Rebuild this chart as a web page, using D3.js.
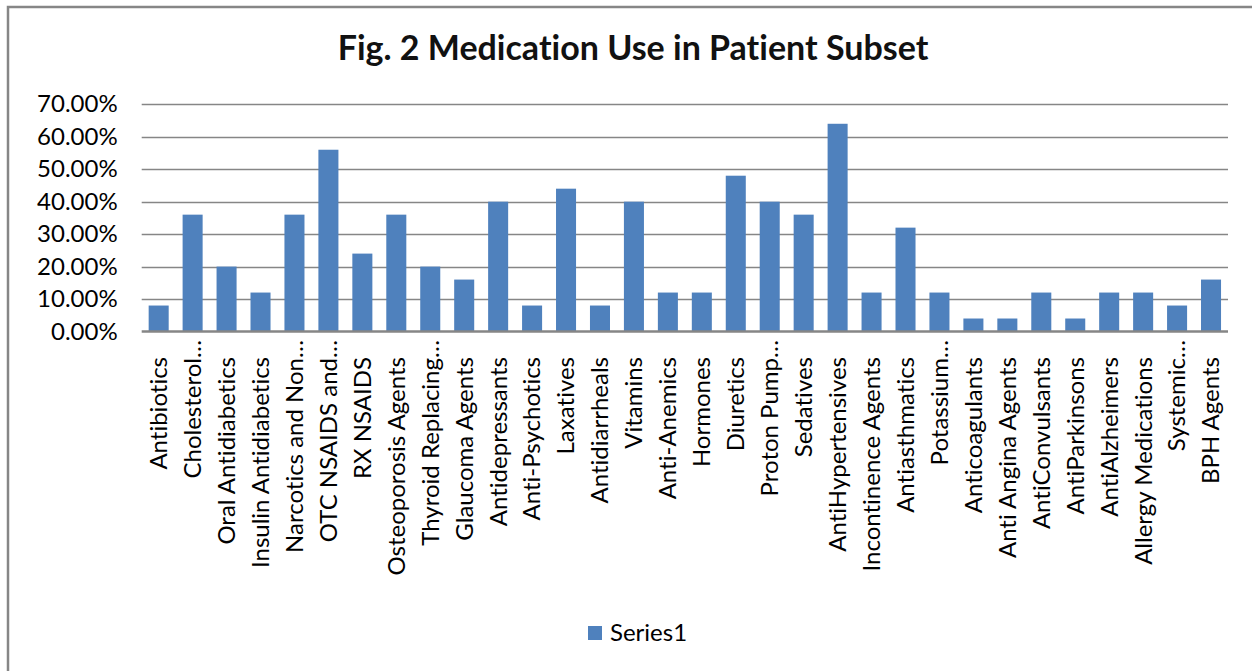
<!DOCTYPE html>
<html>
<head>
<meta charset="utf-8">
<script src="https://cdn.jsdelivr.net/npm/d3@7"></script>
<style>
  body { margin: 0; background: white; }
  text { font-family: Lato, "Open Sans", sans-serif; font-variant-ligatures: none; }
</style>
</head>
<body>
<svg id="chart"></svg>
<script>
// medication use bar chart
var W = 1252;
var H = 671;
var margin = {top: 104.3, right: 24, bottom: 339.5, left: 141.7};

var categories = ["Antibiotics", "Cholesterol\u2026", "Oral Antidiabetics", "Insulin Antidiabetics",
  "Narcotics and Non\u2026", "OTC NSAIDS and\u2026", "RX NSAIDS", "Osteoporosis Agents",
  "Thyroid Replacing\u2026", "Glaucoma Agents", "Antidepressants", "Anti-Psychotics",
  "Laxatives", "Antidiarrheals", "Vitamins", "Anti-Anemics", "Hormones", "Diuretics",
  "Proton Pump\u2026", "Sedatives", "AntiHypertensives", "Incontinence Agents",
  "Antiasthmatics", "Potassium\u2026", "Anticoagulants", "Anti Angina Agents",
  "AntiConvulsants", "AntiParkinsons", "AntiAlzheimers", "Allergy Medications",
  "Systemic\u2026", "BPH Agents"];
var values = [0.08, 0.36, 0.20, 0.12, 0.36, 0.56, 0.24, 0.36, 0.20, 0.16, 0.40, 0.08,
  0.44, 0.08, 0.40, 0.12, 0.12, 0.48, 0.40, 0.36, 0.64, 0.12, 0.32, 0.12, 0.04, 0.04,
  0.12, 0.04, 0.12, 0.12, 0.08, 0.16];
var yTicks = [0, 0.1, 0.2, 0.3, 0.4, 0.5, 0.6, 0.7];
var seriesName = "Series1";
var title = "Fig. 2 Medication Use in Patient Subset";

var data = categories.map((c, i) => ({name: c, value: values[i]}));

var svg = d3.select("#chart")
  .attr("width", W)
  .attr("height", H);

svg.append("rect")
  .attr("width", "100%")
  .attr("height", "100%")
  .attr("fill", "white");

// frame, only left and top edges are in the picture
svg.append("path")
  .attr("d", `M8,${H} L8,7 L${W},7`)
  .attr("fill", "none")
  .attr("stroke", "#868686")
  .attr("stroke-width", 2.5);

var x = d3.scaleBand()
  .domain(categories)
  .range([margin.left, W - margin.right]);

var y = d3.scaleLinear()
  .domain([0, 0.7])
  .range([H - margin.bottom, margin.top]);

var barW = x.bandwidth() * 0.59;

svg.append("text")
  .attr("x", 633)
  .attr("y", 60)
  .attr("text-anchor", "middle")
  .style("font-size", "34px")
  .style("font-weight", "bold")
  .attr("fill", "#111")
  .text(title);

// gridlines
svg.append("g")
  .selectAll("line")
  .data(yTicks.slice(1))
  .join("line")
  .attr("x1", margin.left)
  .attr("x2", W - margin.right)
  .attr("y1", d => Math.round(y(d)) + 0.5)
  .attr("y2", d => Math.round(y(d)) + 0.5)
  .attr("stroke", "#868686")
  .attr("stroke-width", 1.5);

var yAxis = g => g
  .attr("transform", `translate(${margin.left},0)`)
  .call(d3.axisLeft(y).tickValues(yTicks).tickFormat(d3.format(".2%")).tickSize(0).tickPadding(24))
  .call(g => g.select(".domain").remove())
  .call(g => g.selectAll("text")
    .style("font-size", "24px")
    .style("font-family", "Lato, sans-serif")
    .attr("fill", "#000"));

svg.append("g").call(yAxis);

svg.append("g")
  .selectAll("rect")
  .data(data)
  .join("rect")
  .attr("x", d => x(d.name) + (x.bandwidth() - barW) / 2)
  .attr("width", barW)
  .attr("y", d => y(d.value))
  .attr("height", d => y(0) - y(d.value))
  .attr("fill", "#4F81BD");

// x axis line
svg.append("line")
  .attr("x1", margin.left)
  .attr("x2", W - margin.right)
  .attr("y1", y(0))
  .attr("y2", y(0))
  .attr("stroke", "#868686")
  .attr("stroke-width", 2.5);

// rotated category labels
svg.append("g")
  .selectAll("text")
  .data(data)
  .join("text")
  .attr("transform", d => {
    var top = d.name.endsWith("\u2026") ? 340 : 357;
    return `translate(${x(d.name) + x.bandwidth() / 2},${top}) rotate(-90)`;
  })
  .attr("dy", "0.35em")
  .attr("text-anchor", "end")
  .style("font-size", "24px")
  .attr("fill", "#000")
  .text(d => d.name);

// legend
var legend = svg.append("g");
legend.append("rect")
  .attr("x", 588)
  .attr("y", 626)
  .attr("width", 14)
  .attr("height", 14)
  .attr("fill", "#4F81BD");
legend.append("text")
  .attr("x", 610)
  .attr("y", 641)
  .style("font-size", "24px")
  .attr("fill", "#000")
  .text(seriesName);
</script>
</body>
</html>
